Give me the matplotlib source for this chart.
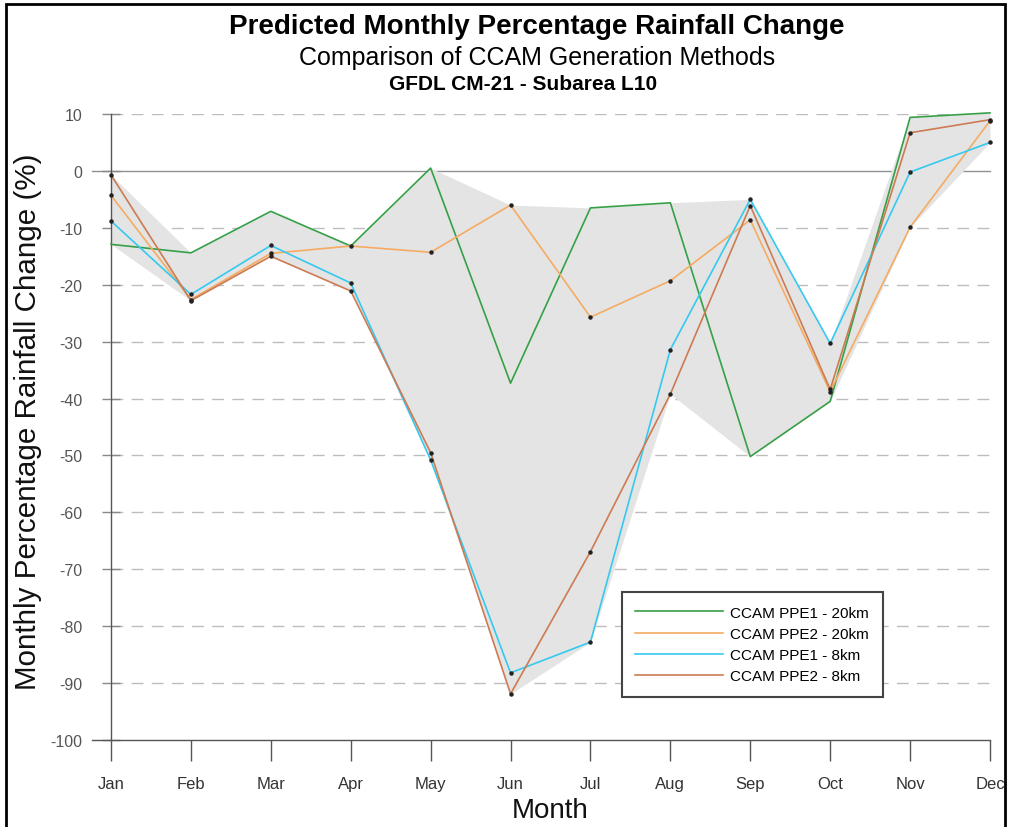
import numpy as np
import matplotlib.pyplot as plt
from matplotlib.patches import Rectangle

plt.rcParams['font.family'] = ['Liberation Sans', 'DejaVu Sans']
plt.rcParams['axes.unicode_minus'] = False

months = ['Jan', 'Feb', 'Mar', 'Apr', 'May', 'Jun',
          'Jul', 'Aug', 'Sep', 'Oct', 'Nov', 'Dec']

ppe1_20km = [-12.9, -14.4, -7.1, -13.2, 0.5, -37.3, -6.5, -5.6, -50.2, -40.5, 9.4, 10.2]
ppe2_20km = [-4.3, -22.6, -14.5, -13.2, -14.3, -6.0, -25.7, -19.3, -8.6, -38.8, -9.9, 8.8]
ppe1_8km  = [-8.8, -21.7, -13.1, -19.7, -50.8, -88.2, -82.8, -31.4, -5.0, -30.3, -0.2, 5.0]
ppe2_8km  = [-0.7, -22.8, -15.0, -21.1, -49.5, -91.9, -66.9, -39.2, -6.1, -38.4, 6.7, 9.0]

series = [
    ('CCAM PPE1 - 20km', ppe1_20km, '#36a047', False),
    ('CCAM PPE2 - 20km', ppe2_20km, '#f5ab62', True),
    ('CCAM PPE1 - 8km',  ppe1_8km,  '#36c9f0', True),
    ('CCAM PPE2 - 8km',  ppe2_8km,  '#cc7b52', True),
]

x = np.arange(len(months))
allv = np.array([s[1] for s in series])

fig = plt.figure(figsize=(10.1, 8.28), dpi=100)
ax = fig.add_axes([111 / 1010, 1 - 741 / 828, 879 / 1010, 626 / 828])

# shaded envelope (min/max of all runs)
ax.fill_between(x, allv.min(axis=0), allv.max(axis=0), color='#e4e4e4', lw=0, zorder=2)

# grid
for yv in range(-90, 11, 10):
    if yv == 0:
        continue
    ax.axhline(yv, color='#bdbdbd', lw=1.0, ls=(0, (8.5, 6)), zorder=1)
ax.axhline(0, xmin=-0.022, color='#909090', lw=1.0, zorder=1, clip_on=False)

for name, vals, col, dots in series:
    ax.plot(x, vals, color=col, lw=1.2, label=name, zorder=3, clip_on=False)
for name, vals, col, dots in series:
    if dots:
        ax.plot(x, vals, ls='none', marker='o', ms=2.2, color='#222222', zorder=4, clip_on=False)

ax.set_xlim(0, 11)
ax.set_ylim(-100, 10)
ax.set_yticks(np.arange(-100, 11, 10))
ax.set_xticks(x)
ax.set_xticklabels(months)

for s in ['top', 'right']:
    ax.spines[s].set_visible(False)
ax.spines['left'].set_color('#555555')
ax.spines['bottom'].set_color('#555555')
ax.spines['bottom'].set_bounds(-0.24, 11)
ax.spines['left'].set_linewidth(1.0)
ax.spines['bottom'].set_linewidth(1.0)

ax.tick_params(axis='y', direction='inout', length=13, width=1.0, color='#888888',
               labelsize=11.5, labelcolor='#555555', pad=14)
ax.tick_params(axis='x', direction='out', length=15, width=1.0, color='#555555',
               labelsize=12, labelcolor='#333333', pad=11)

ax.set_xlabel('Month', fontsize=20, color='#111111', labelpad=4)
ax.set_ylabel('Monthly Percentage Rainfall Change (%)', fontsize=21.3, color='#111111')
ax.yaxis.set_label_coords(-0.079, 0.51)

leg = ax.legend(loc='lower left', bbox_to_anchor=(0.581, 0.0687), borderaxespad=0,
                fontsize=11, handlelength=5.7, handletextpad=0.5, labelspacing=0.47,
                borderpad=0.9, fancybox=False, framealpha=1)
leg.get_frame().set_edgecolor('#444444')
leg.get_frame().set_linewidth(1.5)
leg.set_zorder(5)

fig.text(537 / 1010, 1 - 27 / 828, 'Predicted Monthly Percentage Rainfall Change',
         ha='center', va='center', fontsize=20, fontweight='bold')
fig.text(537 / 1010, 1 - 58 / 828, 'Comparison of CCAM Generation Methods',
         ha='center', va='center', fontsize=18)
fig.text(523 / 1010, 1 - 84 / 828, 'GFDL CM-21 - Subarea L10',
         ha='center', va='center', fontsize=15, fontweight='bold')

fig.add_artist(Rectangle((6 / 1010, -0.02), 999 / 1010, 1 - 5 / 828 + 0.02,
                         transform=fig.transFigure, fill=False, ec='black', lw=2))

fig.savefig('out.png', dpi=100)
